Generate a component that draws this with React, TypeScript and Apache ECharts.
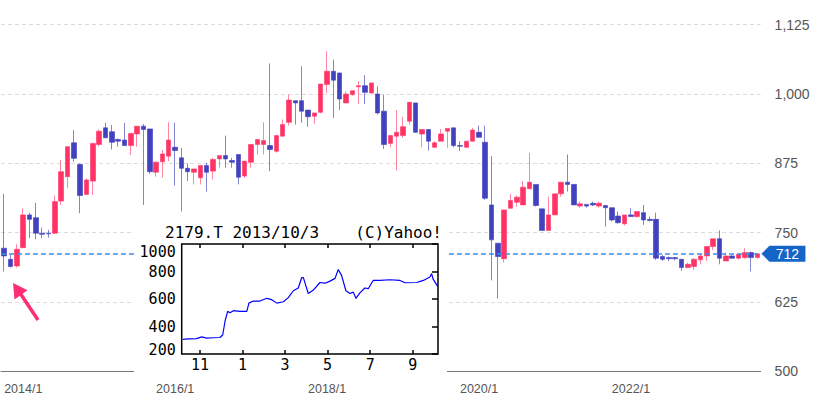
import React, { useEffect, useRef } from "react";
import * as echarts from "echarts";

// ---- main monthly candles, 2014/1 .. 2023/12 ----
const startYear = 2014;
const months: string[] = [];
for (let y = startYear; y < startYear + 10; y++) {
  for (let m = 1; m <= 12; m++) months.push(`${y}/${m}`);
}

const opens = [
  722, 702, 690, 723, 782, 777, 749, 749, 749, 807, 851, 912, 873, 819, 843, 909, 939, 932, 918, 917,
  907, 928, 942, 937, 859, 878, 888, 904, 885, 866, 859, 849, 871, 861, 883, 889, 880, 891, 852, 877,
  909, 909, 907, 897, 924, 949, 988, 988, 971, 960, 967, 1017, 1041, 1038, 984, 999, 1013, 1015, 1002, 1000,
  969, 911, 924, 925, 951, 984, 928, 936, 904, 915, 933, 939, 907, 904, 915, 931, 913, 800, 731, 703,
  794, 805, 800, 829, 837, 793, 754, 782, 820, 841, 837, 798, 801, 803, 798, 799, 795, 780, 766, 782,
  779, 786, 774, 774, 707, 705, 705, 702, 687, 689, 701, 708, 725, 739, 699, 708, 704, 705, 714, 705,
];
const closes = [
  708, 689, 720, 782, 774, 749, 747, 748, 806, 860, 905, 884, 817, 845, 911, 933, 921, 913, 915, 907,
  929, 942, 936, 860, 877, 892, 917, 898, 866, 860, 865, 871, 859, 882, 889, 883, 877, 850, 879, 909,
  918, 916, 900, 925, 945, 989, 984, 969, 959, 966, 1018, 1041, 1025, 991, 1000, 1006, 1015, 1003, 1020, 966,
  909, 925, 931, 941, 985, 931, 936, 915, 912, 928, 938, 907, 906, 915, 935, 922, 812, 737, 707, 791,
  808, 814, 832, 841, 799, 754, 782, 820, 841, 837, 800, 802, 798, 800, 803, 795, 773, 768, 782, 779,
  788, 773, 772, 704, 702, 703, 703, 687, 693, 702, 708, 725, 739, 704, 708, 704, 711, 714, 705, 712,
];
const lows = [
  680, 687, 687, 722, 740, 738, 740, 741, 748, 800, 830, 878, 785, 819, 818, 905, 921, 900, 905, 907,
  890, 905, 800, 856, 851, 849, 879, 835, 788, 843, 837, 837, 824, 846, 867, 867, 867, 837, 849, 867,
  891, 891, 861, 894, 924, 943, 945, 948, 941, 946, 965, 1002, 957, 971, 984, 997, 982, 982, 1000, 963,
  901, 904, 862, 921, 945, 930, 904, 898, 903, 915, 903, 904, 897, 903, 915, 921, 809, 664, 631, 696,
  794, 797, 800, 829, 797, 754, 754, 782, 815, 824, 800, 795, 795, 798, 795, 761, 770, 766, 763, 779,
  777, 764, 770, 701, 699, 699, 700, 681, 686, 683, 693, 699, 719, 693, 699, 703, 702, 703, 680, 703,
];
const highs = [
  820, 710, 729, 794, 786, 804, 759, 755, 817, 881, 906, 935, 875, 848, 912, 936, 948, 944, 920, 948,
  929, 942, 946, 937, 879, 899, 949, 948, 903, 875, 865, 871, 876, 885, 889, 925, 885, 891, 879, 909,
  918, 949, 1055, 925, 954, 999, 988, 1050, 971, 966, 1018, 1077, 1062, 1038, 1005, 1006, 1023, 1034, 1020, 1014,
  999, 925, 971, 959, 985, 984, 936, 936, 915, 937, 938, 939, 915, 915, 939, 943, 943, 888, 731, 791,
  820, 817, 843, 894, 837, 793, 815, 820, 841, 891, 837, 806, 801, 806, 806, 800, 795, 788, 782, 794,
  788, 800, 779, 786, 710, 707, 706, 702, 696, 704, 713, 725, 739, 754, 714, 709, 711, 722, 716, 712,
];
const yTicks = [500, 625, 750, 875, 1000, 1125];
const xLabelEvery = 24;

// ---- inset (old daily chart 2012/10 - 2013/10), x in months since 2012/10/1 ----
const insetTitle = "2179.T 2013/10/3";
const insetCredit = "(C)Yahoo!";
const insetMonthTicks = [1, 3, 5, 7, 9, 11];
const insetMonthNames = ["11", "1", "3", "5", "7", "9"];
const insetX = [
  0.19, 0.45, 0.84, 1.08, 1.31, 1.63, 1.94, 2.07, 2.18, 2.3, 2.41, 2.57, 2.88, 3.2, 3.3, 3.51, 3.82,
  4.14, 4.37, 4.61, 4.92, 5.15, 5.39, 5.62, 5.78, 5.86, 6.09, 6.33, 6.64, 6.88, 7.11, 7.35, 7.5, 7.66,
  7.86, 8.05, 8.21, 8.33, 8.52, 8.75, 8.91, 9.14, 9.46, 9.93, 10.4, 10.64, 11.19, 11.5, 11.81, 11.89,
  11.96, 12.18,
];
const insetY = [
  307, 310, 312, 325, 315, 318, 320, 340, 440, 510, 500, 515, 510, 510, 570, 585, 585,
  605, 595, 570, 580, 610, 660, 680, 755, 755, 640, 665, 720, 715, 730, 750, 815, 770,
  660, 640, 650, 605, 645, 680, 675, 735, 735, 740, 735, 718, 720, 735, 760, 785,
  745, 690,
];

const UP = "#ff3366";
const DOWN = "#4242be";
const PRICE_LINE = "#3d8fe8";

export default function App() {
  const ref = useRef<HTMLDivElement>(null);

  useEffect(() => {
    if (!ref.current) return;
    const chart = echarts.init(ref.current, null, { renderer: "svg" });
    const candleData = opens.map((o, i) => [o, closes[i], lows[i], highs[i]]);
    const lastIdx = closes.length - 1;
    const last = closes[lastIdx];
    const insetData = insetX.map((x, i) => [x, insetY[i]]);
    const mono = '"DejaVu Sans Mono", monospace';

    chart.setOption({
      animation: false,
      backgroundColor: "#fff",
      grid: [
        { left: 1, right: 52.4, top: 24.7, bottom: 27.7 },
        {
          left: 181.7, right: 375, top: 244, bottom: 45,
          show: true, borderColor: "#000", borderWidth: 1.5, backgroundColor: "#fff", z: 20,
        },
      ],
      xAxis: [
        {
          type: "category",
          gridIndex: 0,
          data: months,
          boundaryGap: true,
          axisLine: { show: true, lineStyle: { color: "#777", width: 1 } },
          axisTick: { show: false },
          splitLine: { show: false },
          axisLabel: {
            interval: (idx: number) => idx % xLabelEvery === 0,
            align: "left",
            margin: 11,
            color: "#555",
            fontSize: 12.5,
            fontFamily: '"Liberation Sans", Arial, sans-serif',
          },
        },
        {
          type: "value",
          gridIndex: 1,
          min: 0.14,
          max: 12.19,
          z: 21,
          axisLine: { show: false },
          splitLine: { show: false },
          axisTick: {
            show: true, inside: true, length: 4,
            customValues: insetMonthTicks,
            lineStyle: { color: "#000", width: 1.5 },
          },
          axisLabel: {
            customValues: insetMonthTicks,
            formatter: (v: number) => insetMonthNames[insetMonthTicks.indexOf(Math.round(v))] ?? "",
            margin: 3,
            color: "#000",
            fontSize: 15,
            fontFamily: mono,
          },
        },
        {
          type: "value",
          gridIndex: 1,
          position: "top",
          min: 0.14,
          max: 12.19,
          z: 21,
          axisLine: { show: false },
          splitLine: { show: false },
          axisTick: {
            show: true, inside: true, length: 4,
            customValues: insetMonthTicks,
            lineStyle: { color: "#000", width: 1.5 },
          },
          axisLabel: { show: false },
        },
      ],
      yAxis: [
        {
          type: "value",
          gridIndex: 0,
          position: "right",
          min: yTicks[0],
          max: yTicks[yTicks.length - 1],
          interval: 125,
          axisLine: { show: false },
          axisTick: { show: false },
          splitLine: { show: true, lineStyle: { color: "#dcdcdc", type: [4, 3], width: 1 } },
          axisLabel: {
            margin: 14,
            color: "#555",
            fontSize: 14,
            fontFamily: '"Liberation Sans", Arial, sans-serif',
            formatter: (v: number) => v.toLocaleString("en-US"),
          },
        },
        {
          type: "value",
          gridIndex: 1,
          min: 200,
          max: 1000,
          interval: 200,
          z: 21,
          axisLine: { show: false },
          axisTick: { show: false },
          splitLine: { show: false },
          axisLabel: {
            margin: 6,
            color: "#000",
            fontSize: 15,
            fontFamily: mono,
            formatter: (v: number) =>
              v === 1000 ? `{t|${v}}` : v === 200 ? `{b|${v}}` : `${v}`,
            rich: {
              t: { padding: [15, 0, 0, 0], fontSize: 15, fontFamily: mono, color: "#000" },
              b: { padding: [0, 0, 9, 0], fontSize: 15, fontFamily: mono, color: "#000" },
            },
          },
        },
        {
          type: "value",
          gridIndex: 1,
          position: "right",
          min: 200,
          max: 1000,
          interval: 200,
          z: 21,
          axisLine: { show: false },
          axisTick: { show: true, inside: true, length: 6, lineStyle: { color: "#000", width: 1.5 } },
          splitLine: { show: false },
          axisLabel: { show: false },
        },
      ],
      series: [
        {
          type: "line",
          name: "price-line",
          xAxisIndex: 0,
          yAxisIndex: 0,
          data: [],
          color: PRICE_LINE,
          z: 1,
          markLine: {
            silent: true,
            symbol: "none",
            label: { show: false },
            lineStyle: { color: PRICE_LINE, type: [5, 3], width: 1.5, opacity: 1 },
            data: [{ yAxis: last }],
          },
        },
        {
          type: "candlestick",
          xAxisIndex: 0,
          yAxisIndex: 0,
          data: candleData,
          barWidth: 5,
          z: 2,
          itemStyle: {
            color: UP,
            color0: DOWN,
            borderColor: "rgba(255,51,102,0.6)",
            borderColor0: "rgba(66,66,190,0.65)",
            borderWidth: 1,
          },
          markPoint: {
            silent: true,
            symbol: "path://M0,8L8,0L44,0L44,16L8,16Z",
            symbolSize: [44, 16],
            symbolOffset: [26, 0],
            itemStyle: { color: "#1565c8" },
            label: {
              show: true,
              position: "inside",
              offset: [4, 0],
              color: "#fff",
              fontSize: 14,
              fontFamily: '"Liberation Sans", Arial, sans-serif',
              formatter: () => String(last),
            },
            data: [{ coord: [months[lastIdx], last], value: last }],
          },
        },
        {
          type: "line",
          xAxisIndex: 1,
          yAxisIndex: 1,
          data: insetData,
          showSymbol: false,
          z: 22,
          lineStyle: { color: "#0000ff", width: 1.2 },
        },
      ],
      graphic: [
        {
          type: "rect",
          z: 10,
          silent: true,
          shape: { x: 134, y: 214, width: 313, height: 161 },
          style: { fill: "#fff" },
        },
        {
          type: "text",
          z: 25,
          x: 165,
          y: 232,
          style: {
            text: insetTitle,
            fill: "#000",
            font: `16px ${mono}`,
            verticalAlign: "middle",
            align: "left",
          },
        },
        {
          type: "text",
          z: 25,
          x: 442,
          y: 232,
          style: {
            text: insetCredit,
            fill: "#000",
            font: `16px ${mono}`,
            verticalAlign: "middle",
            align: "right",
          },
        },
        {
          type: "line",
          z: 30,
          shape: { x1: 38, y1: 320, x2: 20, y2: 293 },
          style: { stroke: "#ff2d74", lineWidth: 3.5 },
        },
        {
          type: "polygon",
          z: 30,
          shape: { points: [[13, 283], [27.5, 290.2], [14.5, 299.4]] },
          style: { fill: "#ff2d74" },
        },
      ],
    });

    return () => chart.dispose();
  }, []);

  return (
    <div
      ref={ref}
      style={{ position: "fixed", left: 0, top: 0, width: 813, height: 399 }}
    />
  );
}
